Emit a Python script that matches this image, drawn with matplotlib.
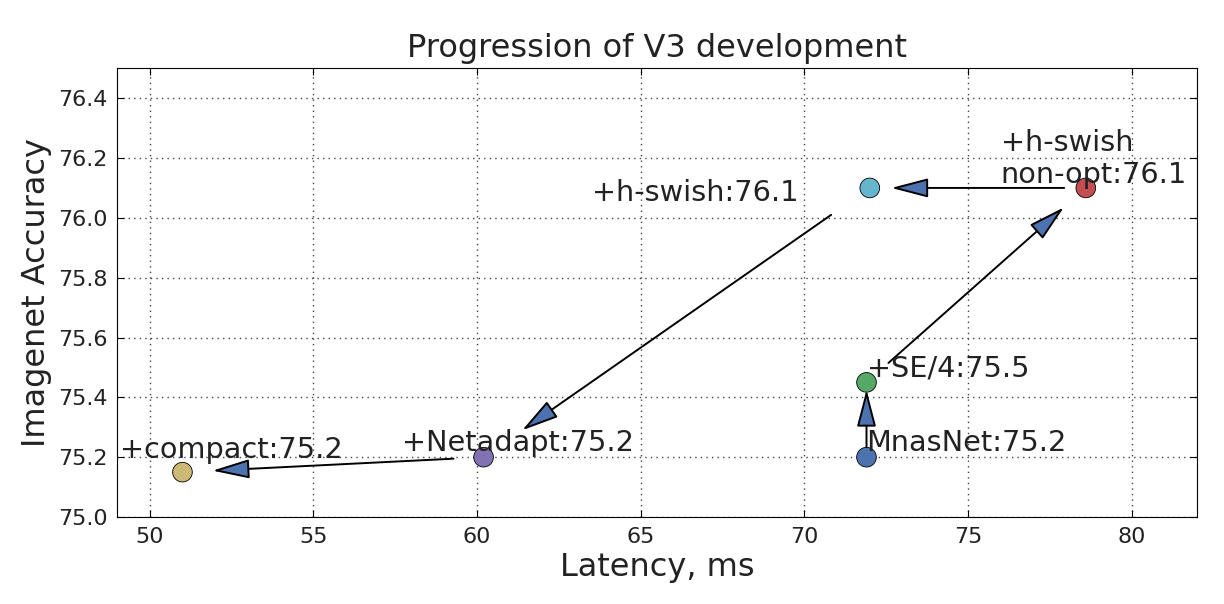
import matplotlib.pyplot as plt
import numpy as np

# models in order of development
names = ['MnasNet:75.2', '+SE/4:75.5', '+h-swish\nnon-opt:76.1', '+h-swish:76.1',
         '+Netadapt:75.2', '+compact:75.2']
latency = [71.9, 71.9, 78.6, 72.0, 60.2, 51.0]
accuracy = [75.2, 75.45, 76.1, 76.1, 75.2, 75.15]
colors = ['#4C72B0', '#55A868', '#C44E52', '#64B5CD', '#8172B2', '#CCB974']

# label offsets (data units) from each point
label_dx = [0.0, 0.0, -2.6, -8.5, -2.5, -1.9]
label_dy = [0.02, 0.02, 0.016, -0.044, 0.02, 0.047]

fig = plt.figure(figsize=(12.24, 6.04), dpi=100)
ax = fig.add_axes([0.0956, 0.144, 0.8824, 0.743])

ax.scatter(latency, accuracy, s=200, c=colors, edgecolors='k', linewidths=0.6, zorder=3)

# arrows between consecutive steps, trimmed to 10%..90% of the segment
for i in range(len(latency) - 1):
    x0, y0 = latency[i], accuracy[i]
    dx, dy = latency[i + 1] - x0, accuracy[i + 1] - y0
    ax.annotate('', xy=(x0 + 0.9 * dx, y0 + 0.9 * dy), xytext=(x0 + 0.1 * dx, y0 + 0.1 * dy),
                arrowprops=dict(arrowstyle='-|>,head_length=1.15,head_width=0.3',
                                mutation_scale=20, fc='#4C72B0', ec='k', lw=1.4,
                                shrinkA=0, shrinkB=0),
                zorder=2)

for i, name in enumerate(names):
    ax.text(latency[i] + label_dx[i], accuracy[i] + label_dy[i], name,
            fontsize=20.7, ha='left', va='baseline', color='#222222', zorder=4,
            linespacing=1.2)

ax.set_xlim(49, 82)
ax.set_ylim(75.0, 76.5)
ax.set_xticks(np.arange(50, 81, 5))
ax.set_yticks(np.arange(75.0, 76.41, 0.2))
ax.yaxis.set_major_formatter(plt.FormatStrFormatter('%.1f'))
ax.tick_params(direction='in', top=True, right=True, length=5, labelsize=16,
               labelcolor='#222222', pad=7)
ax.grid(True, color='#444444', linestyle=(0, (1, 3)), linewidth=1.0)
ax.set_axisbelow(True)

ax.set_title('Progression of V3 development', fontsize=23, color='#222222', pad=8)
ax.set_xlabel('Latency, ms', fontsize=23, color='#222222')
ax.set_ylabel('Imagenet Accuracy', fontsize=23, color='#222222')

fig.savefig('out.png', dpi=100)
